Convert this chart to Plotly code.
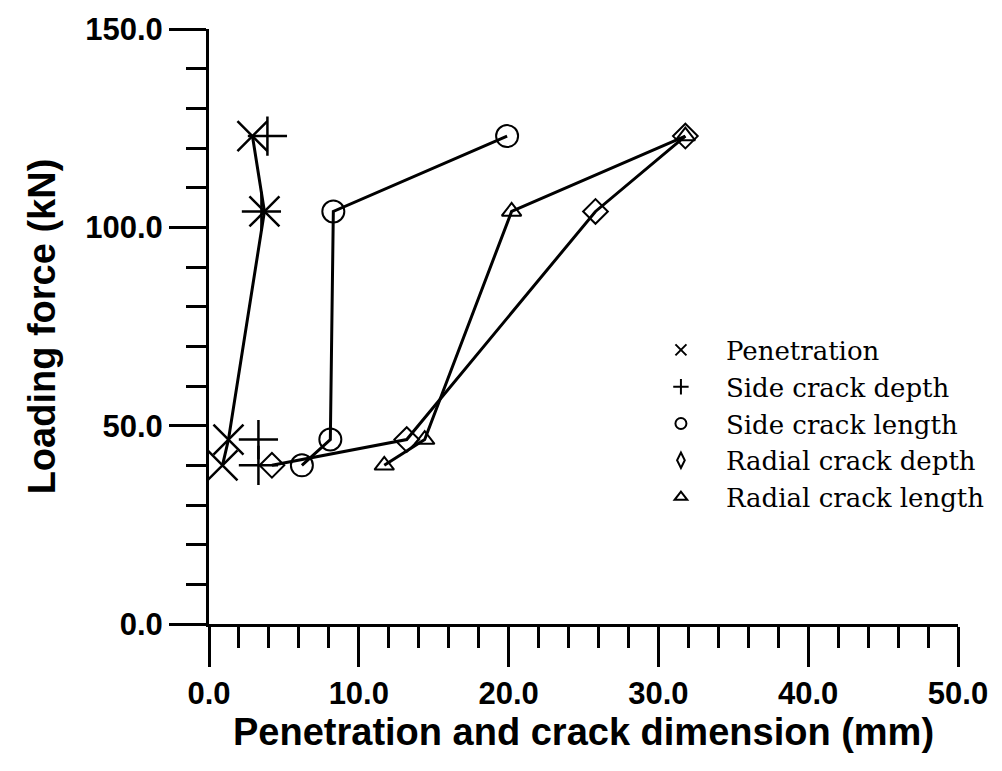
import plotly.graph_objects as go

# Loading force levels (kN)
force = [40.0, 46.5, 104.0, 123.0]

# Dimensions (mm)
penetration = [0.9, 1.3, 3.7, 2.9]
side_crack_depth = [3.3, 3.3, 3.5, 3.9]
side_crack_length = [6.2, 8.1, 8.3, 19.9]
radial_crack_depth = [4.2, 13.2, 25.8, 31.8]
radial_crack_length = [11.7, 14.4, 20.2, 31.8]

series_names = ["Penetration", "Side crack depth", "Side crack length",
                "Radial crack depth", "Radial crack length"]

x_title = "Penetration and crack dimension (mm)"
y_title = "Loading force (kN)"

fig = go.Figure()

LINE = dict(color="black", width=3)

# data traces (no legend)
fig.add_trace(go.Scatter(x=penetration, y=force, mode="lines+markers",
                         line=LINE, showlegend=False,
                         marker=dict(symbol="x-thin", size=30, color="black",
                                     line=dict(color="black", width=2.5))))
fig.add_trace(go.Scatter(x=side_crack_depth, y=force, mode="markers",
                         showlegend=False,
                         marker=dict(symbol="cross-thin", size=28, color="black",
                                     line=dict(color="black", width=2.5))))
fig.add_trace(go.Scatter(x=side_crack_length, y=force, mode="lines+markers",
                         line=LINE, showlegend=False,
                         marker=dict(symbol="circle-open", size=22, color="black",
                                     line=dict(color="black", width=2))))
fig.add_trace(go.Scatter(x=radial_crack_depth, y=force, mode="lines+markers",
                         line=LINE, showlegend=False,
                         marker=dict(symbol="diamond-open", size=19, color="black",
                                     line=dict(color="black", width=2))))
fig.add_trace(go.Scatter(x=radial_crack_length, y=force, mode="lines+markers",
                         line=LINE, showlegend=False,
                         marker=dict(symbol="triangle-up-open", size=17, color="black",
                                     line=dict(color="black", width=2))))

# legend entries (small symbols)
leg_symbols = ["x-thin", "cross-thin", "circle-open", "diamond-tall-open", "triangle-up-open"]
for name, sym in zip(series_names, leg_symbols):
    fig.add_trace(go.Scatter(x=[None], y=[None], mode="markers", name=name,
                             marker=dict(symbol=sym, size=11, color="black",
                                         line=dict(color="black", width=2))))

tickfont = dict(family="Liberation Sans, Arial, sans-serif", size=31, color="black", weight="bold")
titlefont = dict(family="Liberation Sans, Arial, sans-serif", size=38, color="black", weight="bold")

fig.update_layout(
    width=1002, height=771,
    margin=dict(l=209, r=42, t=27, b=147),
    paper_bgcolor="white", plot_bgcolor="white",
    legend=dict(x=0.57, y=0.50, xanchor="left", yanchor="top",
                font=dict(family="DejaVu Serif, serif", size=26, color="black"),
                itemwidth=80, bgcolor="rgba(0,0,0,0)"),
    annotations=[dict(text=x_title, xref="paper", yref="paper", x=0.5, y=-0.182,
                      xanchor="center", yanchor="middle", showarrow=False, font=titlefont)],
)

fig.update_xaxes(range=[0, 50], dtick=10, tick0=0, tickformat=".1f",
                 showline=True, linecolor="black", linewidth=3,
                 ticks="outside", ticklen=40, tickwidth=3, tickcolor="black",
                 minor=dict(dtick=2, ticklen=21, tickwidth=3, tickcolor="black", ticks="outside"),
                 showgrid=False, zeroline=False, tickfont=tickfont)
fig.update_yaxes(range=[0, 150], dtick=50, tick0=0, tickformat=".1f",
                 showline=True, linecolor="black", linewidth=3,
                 ticks="outside", ticklen=37, tickwidth=3, tickcolor="black",
                 minor=dict(dtick=10, ticklen=20, tickwidth=3, tickcolor="black", ticks="outside"),
                 showgrid=False, zeroline=False, tickfont=tickfont,
                 title=dict(text=y_title, font=titlefont, standoff=18))

fig.write_html("out.html")
